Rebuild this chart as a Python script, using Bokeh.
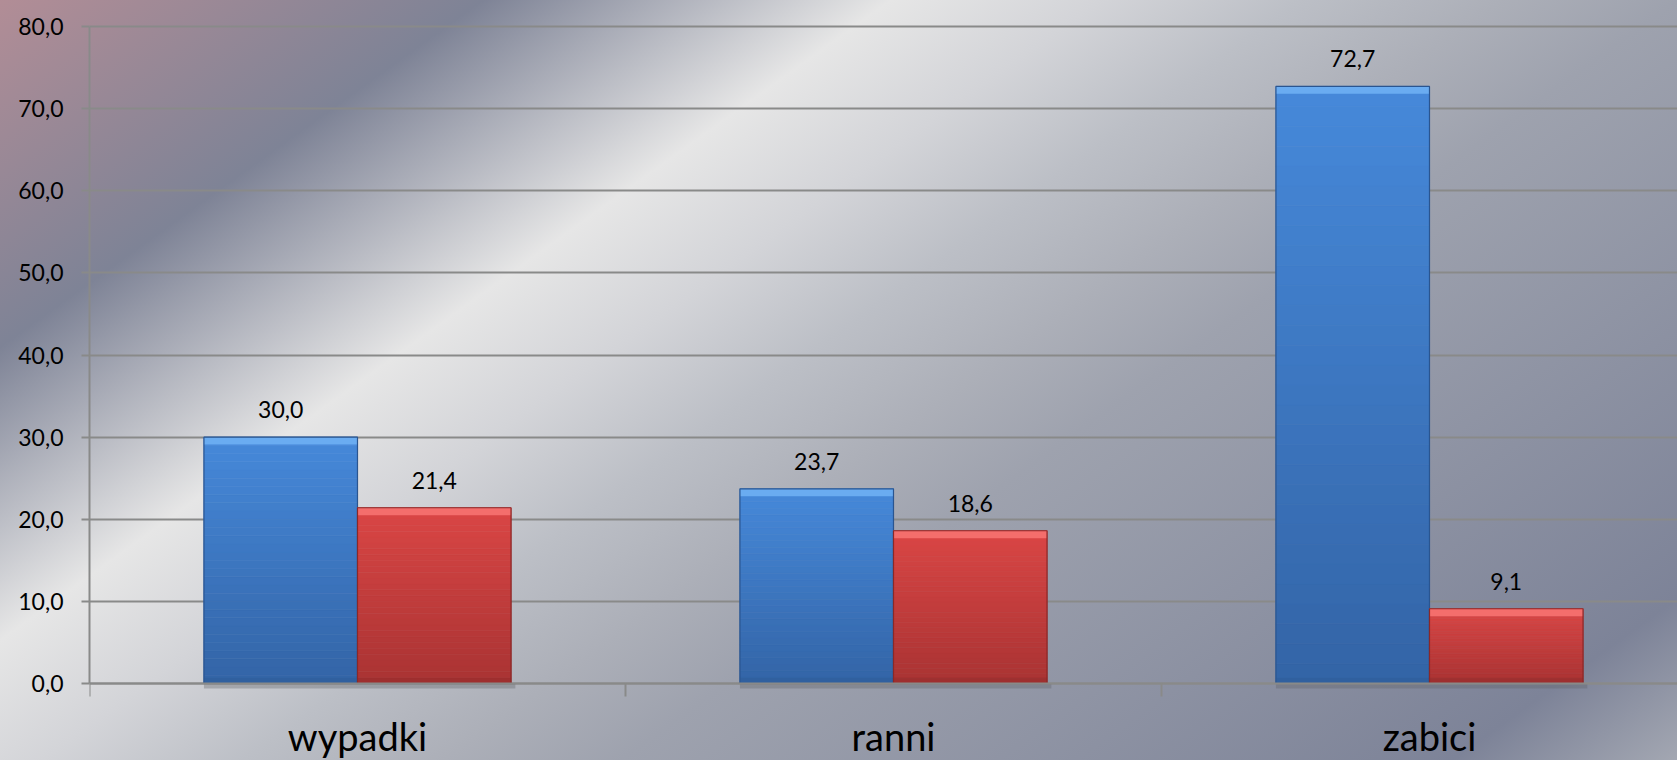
from bokeh.plotting import figure
from bokeh.models import ColumnDataSource, FixedTicker, Range1d, LabelSet, LinearAxis, GlobalInlineStyleSheet
from bokeh.core.properties import value
from bokeh.embed import file_html
from bokeh.resources import INLINE

# ---------------- data ----------------
categories = ["wypadki", "ranni", "zabici"]
blue_values = [30.0, 23.7, 72.7]
red_values = [21.4, 18.6, 9.1]
y_ticks = [0, 10, 20, 30, 40, 50, 60, 70, 80]
y_tick_labels = ["0,0", "10,0", "20,0", "30,0", "40,0", "50,0", "60,0", "70,0", "80,0"]

# ---------------- style ----------------
FONT = "Lato"
BAR_W = 0.2865
GRID = "#898a89"
BG_STOPS = [("#b28d96", 0), ("#7e8396", 282), ("#e6e6e6", 520), ("#d3d4d8", 642),
            ("#bcbfc6", 759), ("#acafb8", 876), ("#9ea2ae", 979), ("#7d8398", 1465),
            ("#a3a7b2", 1596)]


def grad_css(shift):
    stops = ", ".join(f"{c} {s - shift}px" for c, s in BG_STOPS)
    return f"linear-gradient(144.3deg, {stops})"


def hex2rgb(h):
    h = h.lstrip("#")
    return tuple(int(h[i:i + 2], 16) for i in (0, 2, 4))


def mix(c1, c2, t):
    a, b = hex2rgb(c1), hex2rgb(c2)
    return "#%02x%02x%02x" % tuple(round(a[i] + (b[i] - a[i]) * t) for i in range(3))


n_cat = len(categories)
cat_centers = [i + 0.5 for i in range(n_cat)]
page_css = GlobalInlineStyleSheet(css="html { background: " + grad_css(0) + "; }")

p = figure(width=1677, height=760,
           x_range=Range1d(0, 2.9627), y_range=Range1d(-9.376, 83.166),
           output_backend="svg", toolbar_location=None,
           x_axis_location=None,
           min_border_left=89, min_border_right=0, min_border_top=0, min_border_bottom=0,
           stylesheets=[page_css])
p.styles = {"background-image": grad_css(0)}
p.background_fill_color = None
p.border_fill_color = None
p.outline_line_color = None

# y axis
p.yaxis.ticker = FixedTicker(ticks=y_ticks)
p.yaxis.bounds = (y_ticks[0], y_ticks[-1])
p.yaxis.major_label_overrides = dict(zip(y_ticks, y_tick_labels))
p.yaxis.major_label_text_font = FONT
p.yaxis.major_label_text_font_size = "23px"
p.yaxis.major_label_text_color = "#000000"
p.yaxis.major_label_standoff = 18
p.yaxis.major_tick_out = 8
p.yaxis.major_tick_in = 0
p.yaxis.major_tick_line_color = GRID
p.yaxis.major_tick_line_width = 2
p.yaxis.minor_tick_line_color = None
p.yaxis.axis_line_color = GRID
p.yaxis.axis_line_width = 2

# grid
p.xgrid.visible = False
p.ygrid.grid_line_color = GRID
p.ygrid.grid_line_width = 2

# x axis at value 0: tick marks at category boundaries
xaxis = LinearAxis(fixed_location=0,
                   ticker=FixedTicker(ticks=[], minor_ticks=list(range(n_cat + 1))))
xaxis.major_tick_out = 0
xaxis.major_tick_in = 0
xaxis.major_tick_line_color = None
xaxis.minor_tick_out = 13
xaxis.minor_tick_in = 0
xaxis.minor_tick_line_color = GRID
xaxis.minor_tick_line_width = 2
xaxis.axis_line_color = GRID
xaxis.axis_line_width = 2
xaxis.major_label_text_font_size = "0px"
p.add_layout(xaxis, "below")


def bar_slices(values, offset, top_col, bot_col, n=30):
    xs, bottoms, tops, cols = [], [], [], []
    for i, v in enumerate(values):
        for k in range(n):
            xs.append(i + 0.5 + offset)
            bottoms.append(v * k / n)
            tops.append(v * (k + 1) / n)
            cols.append(mix(bot_col, top_col, (k + 0.5) / n))
    return ColumnDataSource(dict(x=xs, bottom=bottoms, top=tops, color=cols))


# shadow under each pair of bars
ssrc = ColumnDataSource(dict(x=[c + 0.004 for c in cat_centers]))
p.vbar(x="x", bottom=-0.6, top=0, width=2 * BAR_W + 0.008, source=ssrc,
       fill_color="#5f6066", fill_alpha=0.35, line_color=None)

series = [
    (blue_values, -BAR_W / 2, "#4689da", "#3364a6", "#6aacf1", "#2f5d99", "#2a5590"),
    (red_values, BAR_W / 2, "#da4645", "#a93333", "#f46e6c", "#962d2d", "#8a2828"),
]

for vals, off, ctop, cbot, cbevel, cbottom, cline in series:
    src = bar_slices(vals, off, ctop, cbot)
    p.vbar(x="x", bottom="bottom", top="top", width=BAR_W, source=src,
           fill_color="color", line_color="color", line_width=0.6)
    xs = [i + 0.5 + off for i in range(len(vals))]
    bsrc = ColumnDataSource(dict(x=xs, top=vals, bevel=[v - 0.9 for v in vals]))
    p.vbar(x="x", bottom="bevel", top="top", width=BAR_W, source=bsrc,
           fill_color=cbevel, line_color=None)
    p.vbar(x="x", bottom=0, top=0.7, width=BAR_W, source=bsrc,
           fill_color=cbottom, fill_alpha=0.6, line_color=None)
    p.vbar(x="x", bottom=0, top="top", width=BAR_W, source=bsrc,
           fill_color=None, line_color=cline, line_width=1.2)
    lsrc = ColumnDataSource(dict(x=xs, y=vals,
                                 t=[f"{v:.1f}".replace(".", ",") for v in vals]))
    p.add_layout(LabelSet(x="x", y="y", text="t", source=lsrc, y_offset=19,
                          text_align="center", text_baseline="alphabetic",
                          text_font=value(FONT), text_font_size=value("23px"),
                          text_color="#000000"))

# category names below the axis
csrc = ColumnDataSource(dict(x=cat_centers, t=categories))
p.text(x="x", y=-6.35, text="t", source=csrc,
       text_align="center", text_baseline="alphabetic",
       text_font=value(FONT), text_font_size=value("38px"), text_color="#000000")

open("out.html", "w").write(file_html(p, INLINE))
